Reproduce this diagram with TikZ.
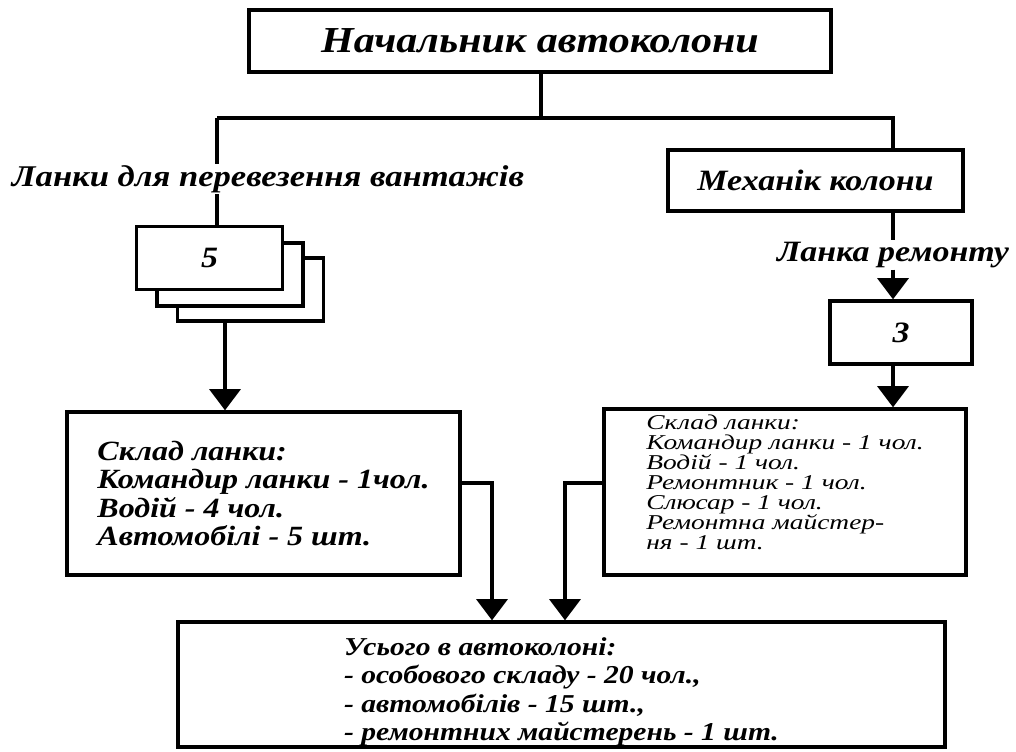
\documentclass[tikz,border=0pt]{standalone}
\usepackage{fontspec}
\setmainfont{Liberation Serif}
\newfontfamily\widefont[FakeStretch=1.15]{Liberation Serif}
\newfontfamily\widerfont[FakeStretch=1.3]{Liberation Serif}
\usetikzlibrary{arrows.meta}

\begin{document}
\begin{tikzpicture}[x=0.025cm,y=-0.025cm,
  box/.style={draw,line width=2.4pt,fill=white,inner sep=0pt},
  big/.style={font=\widefont\fontsize{21}{24}\selectfont\bfseries\itshape},
  link/.style={line width=2.4pt},
  arr/.style={line width=2.4pt,-{Triangle[width=22pt,length=15pt]}}]
\useasboundingbox (0,0) rectangle (1016,751);
\node[box,minimum width=14.55cm,minimum height=1.55cm,font=\widefont\fontsize{26}{30}\selectfont\bfseries\itshape] (chief) at (540,41) {Начальник автоколони};
\coordinate (hub) at (541,118);
\coordinate (lfork) at (217,118);
\coordinate (rfork) at (893,118);
\coordinate (ldrop) at (225,0);
\coordinate (lin) at (492,483);
\coordinate (rin) at (565,483);
\node[big,font=\widefont\fontsize{21.4}{24}\selectfont\bfseries\itshape,inner sep=1pt] (cargo) at (268,179) {Ланки для перевезення вантажів};
\node[box,minimum width=3.65cm,minimum height=1.57cm] (unit3) at (250.5,289.5) {};
\node[box,minimum width=3.65cm,minimum height=1.57cm] (unit2) at (230,274.5) {};
\node[box,big,minimum width=3.65cm,minimum height=1.57cm] (unit1) at (209.5,258) {5};
\node[box,minimum width=9.825cm,minimum height=4.075cm,align=left,font=\widefont\fontsize{19.8}{20}\selectfont\bfseries\itshape] (crew) at (263.5,493.5) {Склад ланки:\\Командир ланки - 1чол.\\Водій - 4 чол.\\Автомобілі - 5 шт.};
\node[box,big,minimum width=7.375cm,minimum height=1.525cm] (mech) at (815.5,180.5) {Механік колони};
\node[big,inner sep=1pt] (repair) at (893,255) {Ланка ремонту};
\node[box,big,minimum width=3.55cm,minimum height=1.575cm] (unit) at (901,332.5) {3};
\node[box,minimum width=9.05cm,minimum height=4.15cm,align=left,font=\widerfont\fontsize{15}{14.2}\selectfont\itshape] (shop) at (785,492) {Склад ланки:\\Командир ланки - 1 чол.\\Водій - 1 чол.\\Ремонтник - 1 чол.\\Слюсар - 1 чол.\\Ремонтна майстер-\\ня - 1 шт.\rule[-14pt]{0pt}{0pt}\hspace*{10pt}};
\node[box,minimum width=19.175cm,minimum height=3.125cm,align=left,font=\widefont\fontsize{18.3}{20.1}\selectfont\bfseries\itshape] (total) at (561.5,684.5) {\rule{0pt}{23pt}Усього в автоколоні:\\- особового складу - 20 чол.,\\- автомобілів - 15 шт.,\\- ремонтних майстерень - 1 шт.};
\draw[link] (chief.south -| hub) -- (hub);
\draw[link] (lfork) -- (rfork) -- (rfork |- mech.north);
\draw[link] (lfork) -- (lfork |- cargo.north);
\draw[link] (cargo.south -| lfork) -- (unit1.north -| lfork);
\draw[arr] (unit3.south -| ldrop) -- (crew.north -| ldrop);
\draw[link] (mech.south -| rfork) -- (repair.north -| rfork);
\draw[arr] (repair.south -| rfork) -- (unit.north -| rfork);
\draw[arr] (unit.south -| rfork) -- (shop.north -| rfork);
\draw[arr] (crew.east |- lin) -- (lin) -- (lin |- total.north);
\draw[arr] (shop.west |- rin) -- (rin) -- (rin |- total.north);
\end{tikzpicture}
\end{document}
